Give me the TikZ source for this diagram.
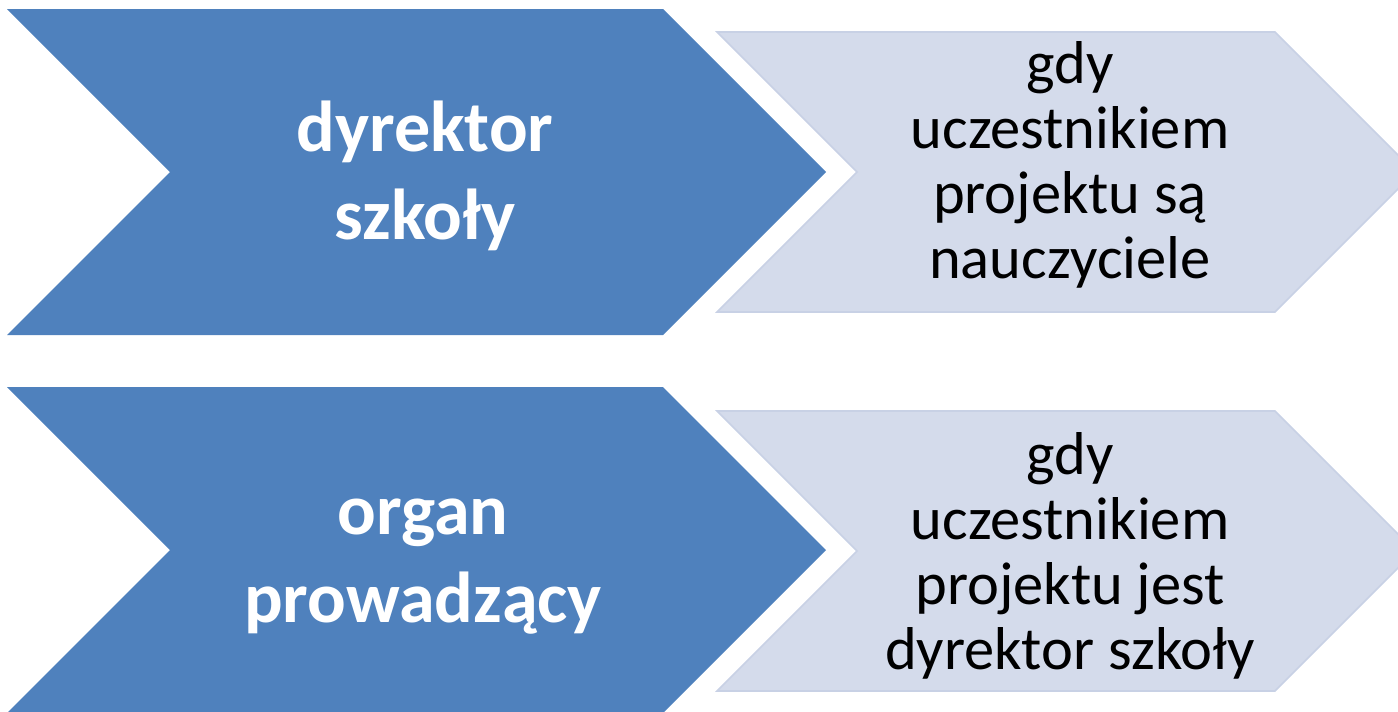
\documentclass[tikz,border=0pt]{standalone}
\usepackage{fontspec}
\setmainfont{Carlito}
\definecolor{darkblue}{HTML}{4F81BD}
\definecolor{lightfill}{HTML}{D4DBEB}
\definecolor{lightedge}{HTML}{C8D1E5}
\tikzset{
  darkchev/.style={fill=darkblue, draw=none},
  lightchev/.style={fill=lightfill, draw=lightedge, line width=0.45pt, line join=miter},
  darktext/.style={text=white, font=\fontsize{20.5}{25}\selectfont\bfseries, align=center, inner sep=0pt},
  lighttext/.style={text=black, font=\fontsize{17.2}{18.5}\selectfont, align=center, inner sep=0pt}
}
\begin{document}
\begin{tikzpicture}[x=0.01cm, y=-0.01cm]
\useasboundingbox (0,0) rectangle (1398,711);
\clip (0,0) rectangle (1398,711);
% top row
\path[lightchev] (717,32) -- (1275,32) -- (1415,172) -- (1275,312) -- (717,312) -- (857,172) -- cycle;
\path[darkchev] (7,9) -- (663,9) -- (826,172) -- (663,335) -- (7,335) -- (170,172) -- cycle;
% bottom row
\path[lightchev] (717,411) -- (1275,411) -- (1415,551) -- (1275,691) -- (717,691) -- (857,551) -- cycle;
\path[darkchev] (7,387) -- (663,387) -- (826,550) -- (663,713) -- (7,713) -- (170,550) -- cycle;
% texts
\node[darktext] (d1) at (425,176) {dyrektor\\szkoły};
\node[lighttext] (l1) at (1070,165) {gdy\\uczestnikiem\\projektu są\\nauczyciele};
\node[darktext] (d2) at (423,567) {organ\\prowadzący};
\node[lighttext] (l2) at (1070,556) {gdy\\uczestnikiem\\projektu jest\\dyrektor szkoły};
\end{tikzpicture}
\end{document}
